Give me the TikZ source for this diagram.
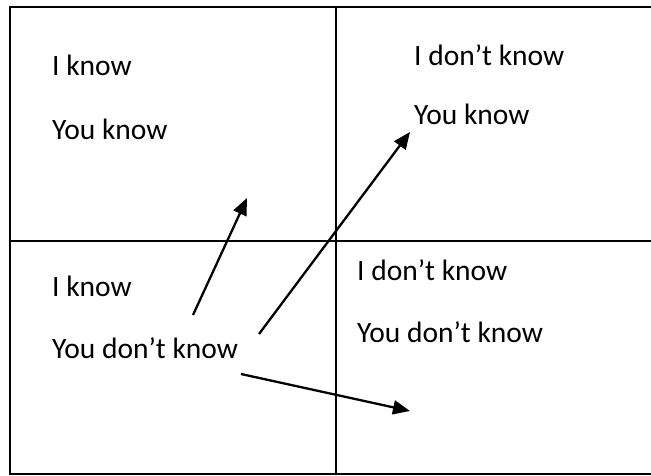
\documentclass[tikz,border=0pt]{standalone}
\usepackage{fontspec}
\setmainfont{Carlito}
\usetikzlibrary{arrows.meta}
\begin{document}
\begin{tikzpicture}[x=1pt,y=-1pt,
  frame/.style={line width=1.8pt,black},
  lbl/.style={anchor=base west,inner sep=0pt,font=\fontsize{29.5}{35}\selectfont},
  arr/.style={line width=2.3pt,-{Triangle[length=17pt,width=14pt]}}]
\useasboundingbox (0,0) rectangle (651,475);
\clip (0,0) rectangle (651,475);
% frame and dividers
\draw[frame] (10,7) rectangle (665,474);
\draw[frame] (336,7) -- (336,474);
\draw[frame] (10,241) -- (665,241);
% labels
\node[lbl] (tl1) at (52,75) {I know};
\node[lbl] (tl2) at (52,139) {You know};
\node[lbl] (tr1) at (414,65) {I don’t know};
\node[lbl] (tr2) at (414,124) {You know};
\node[lbl] (bl1) at (52,296) {I know};
\node[lbl] (bl2) at (52,358) {You don’t know};
\node[lbl] (br1) at (357,280) {I don’t know};
\node[lbl] (br2) at (357,342) {You don’t know};
% arrow end points
\coordinate (a1s) at (193,315);
\coordinate (a1e) at (247,198);
\coordinate (a2s) at (259,334);
\coordinate (a2e) at (410,132);
\coordinate (a3s) at (241,374);
\coordinate (a3e) at (410,411);
\draw[arr] (a1s) -- (a1e);
\draw[arr] (a2s) -- (a2e);
\draw[arr] (a3s) -- (a3e);
\end{tikzpicture}
\end{document}
